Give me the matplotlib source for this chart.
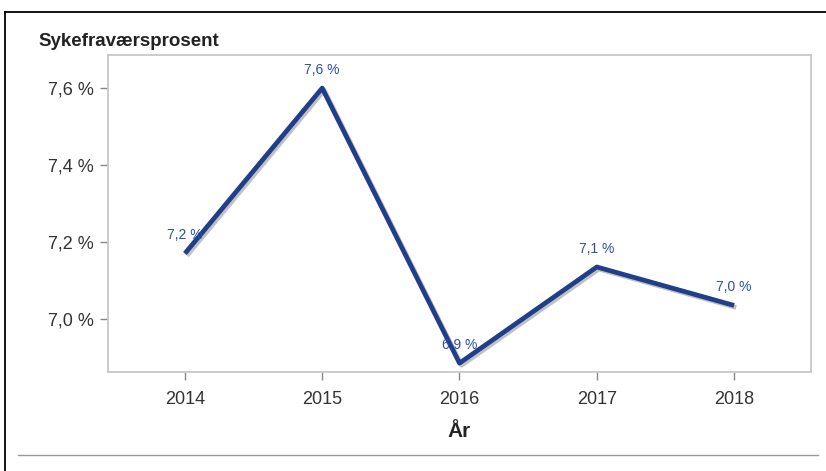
import matplotlib.pyplot as plt
import matplotlib.patheffects as pe
from matplotlib.lines import Line2D

plt.rcParams['font.family'] = ['Liberation Sans', 'DejaVu Sans']

aar = [2014, 2015, 2016, 2017, 2018]
sykefravaer = [7.17, 7.60, 6.885, 7.135, 7.035]
etiketter = ["7,2 %", "7,6 %", "6,9 %", "7,1 %", "7,0 %"]
yticks = [7.0, 7.2, 7.4, 7.6]
ytick_labels = ["7,0 %", "7,2 %", "7,4 %", "7,6 %"]

W, H = 826, 471
fig = plt.figure(figsize=(W / 100, H / 100), dpi=100)
ax = fig.add_axes([108 / W, 1 - 372 / H, (811 - 108) / W, (372 - 55) / H])

linjefarge = "#1f3f8c"
ax.plot(aar, sykefravaer, color=linjefarge, lw=3.4, solid_capstyle="butt",
        path_effects=[pe.SimpleLineShadow(offset=(1.5, -1.5), shadow_color="#999999", alpha=0.6),
                      pe.Normal()], zorder=3)

for x, y, t in zip(aar, sykefravaer, etiketter):
    ax.annotate(t, (x, y), xytext=(0, 8), textcoords="offset points",
                ha="center", va="bottom", fontsize=10, color="#2e4fa3", zorder=4)

ax.set_xlim(2013.44, 2018.56)
ax.set_ylim(6.862, 7.686)
ax.set_xticks(aar)
ax.set_xticklabels([str(a) for a in aar])
ax.set_yticks(yticks)
ax.set_yticklabels(ytick_labels)

for s in ax.spines.values():
    s.set_color("#c8c8c8")
    s.set_linewidth(1.3)
ax.tick_params(axis="both", colors="#888888", labelcolor="#333333", labelsize=13,
               length=6, width=1)
ax.tick_params(axis="x", pad=8)
ax.tick_params(axis="y", pad=4)

ax.set_xlabel("År", fontsize=15, fontweight="bold", color="#222222", labelpad=10)

fig.text(38 / W, 1 - 42 / H, "Sykefraværsprosent", fontsize=13.5, fontweight="bold",
         color="#222222", ha="left", va="center")

# ramme
fig.add_artist(Line2D([5 / W, 1], [1 - 12 / H, 1 - 12 / H], color="black", lw=1.3))
fig.add_artist(Line2D([5 / W, 5 / W], [0, 1 - 12 / H], color="black", lw=1.3))
fig.add_artist(Line2D([18 / W, 818 / W], [1 - 455 / H, 1 - 455 / H], color="#999999", lw=1))

fig.savefig("out.png", dpi=100)
